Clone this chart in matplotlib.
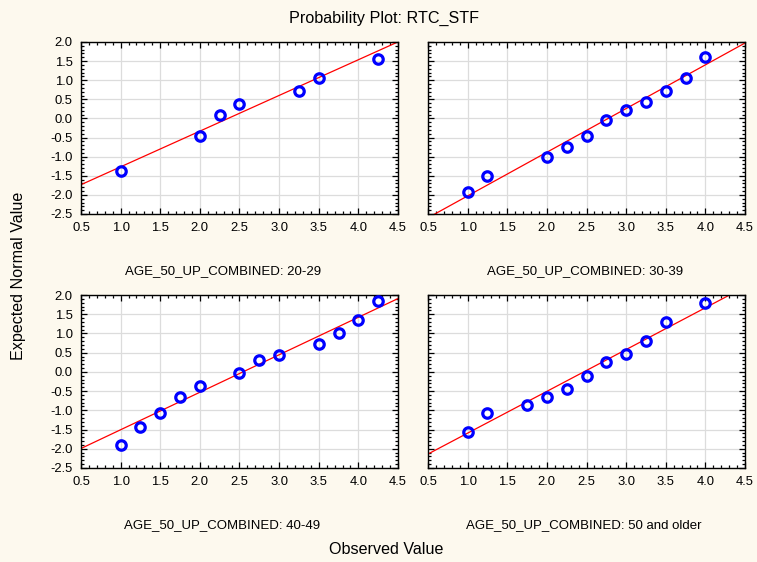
import matplotlib
matplotlib.use("Agg")
import matplotlib.pyplot as plt
from matplotlib.ticker import MultipleLocator, FormatStrFormatter

plt.rcParams['font.family'] = ['Liberation Sans', 'DejaVu Sans']

# Observed values and expected normal scores per age group
groups = ["20-29", "30-39", "40-49", "50 and older"]

obs_20_29 = [1.0, 2.0, 2.25, 2.5, 3.25, 3.5, 4.25]
exp_20_29 = [-1.37, -0.47, 0.09, 0.37, 0.71, 1.06, 1.55]

obs_30_39 = [1.0, 1.25, 2.0, 2.25, 2.5, 2.75, 3.0, 3.25, 3.5, 3.75, 4.0]
exp_30_39 = [-1.93, -1.51, -1.02, -0.745, -0.47, -0.05, 0.23, 0.44, 0.71, 1.06, 1.62]

obs_40_49 = [1.0, 1.25, 1.5, 1.75, 2.0, 2.5, 2.75, 3.0, 3.5, 3.75, 4.0, 4.25]
exp_40_49 = [-1.90, -1.43, -1.08, -0.66, -0.38, -0.04, 0.32, 0.45, 0.725, 1.0, 1.36, 1.84]

obs_50_up = [1.0, 1.25, 1.75, 2.0, 2.25, 2.5, 2.75, 3.0, 3.25, 3.5, 4.0]
exp_50_up = [-1.56, -1.07, -0.86, -0.65, -0.45, -0.10, 0.25, 0.46, 0.80, 1.29, 1.78]

# Reference lines (intercept, slope)
line_intercepts = [-2.20, -3.17, -2.48, -2.68]
line_slopes = [0.934, 1.143, 0.975, 1.087]

observed = [obs_20_29, obs_30_39, obs_40_49, obs_50_up]
expected = [exp_20_29, exp_30_39, exp_40_49, exp_50_up]

x_range = (0.5, 4.5)
y_range = (-2.5, 2.0)

W, H = 757, 562
fig = plt.figure(figsize=(W / 100, H / 100), dpi=100)
fig.patch.set_facecolor('#fdf9ee')

# axes boxes in pixels: (left, top, right, bottom)
boxes = [(81, 42, 398, 214), (428, 42, 745, 214),
         (81, 295, 398, 468), (428, 295, 745, 468)]
# horizontal centres of the group captions
caption_x = [223, 585, 222, 584]

for i, (grp, xs, ys, b0, b1, box, cx) in enumerate(
        zip(groups, observed, expected, line_intercepts, line_slopes, boxes, caption_x)):
    l, t, r, btm = box
    ax = fig.add_axes([l / W, 1 - btm / H, (r - l) / W, (btm - t) / H])
    ax.set_facecolor('white')
    ax.set_xlim(*x_range)
    ax.set_ylim(*y_range)
    ax.xaxis.set_major_locator(MultipleLocator(0.5))
    ax.yaxis.set_major_locator(MultipleLocator(0.5))
    ax.xaxis.set_minor_locator(MultipleLocator(0.1))
    ax.yaxis.set_minor_locator(MultipleLocator(0.1))
    ax.xaxis.set_major_formatter(FormatStrFormatter('%.1f'))
    ax.yaxis.set_major_formatter(FormatStrFormatter('%.1f'))
    ax.tick_params(which='both', direction='in', top=True, right=True,
                   colors='black', labelsize=9.4, width=0.9)
    ax.tick_params(which='major', length=4, pad=6)
    ax.tick_params(which='minor', length=2.5)
    if i % 2 == 1:
        ax.tick_params(labelleft=False)
    ax.grid(True, which='major', color='#dcdcdc', lw=0.9)
    ax.set_axisbelow(True)
    for sp in ax.spines.values():
        sp.set_linewidth(1.0)
        sp.set_color('black')

    lx = list(x_range)
    ly = [b0 + b1 * v for v in lx]
    ax.plot(lx, ly, color='#ff0000', lw=0.9, zorder=2)
    ax.plot(xs, ys, 'o', ms=6.8, mfc='none', mec='#0000ff', mew=2.3,
            zorder=3, clip_on=False)

    fig.text(cx / W, 1 - (btm + 57) / H,
             "AGE_50_UP_COMBINED: " + grp, ha='center', va='center',
             fontsize=9.5)

fig.text(384 / W, 1 - 18 / H, "Probability Plot: RTC_STF",
         ha='center', va='center', fontsize=11.6)
fig.text(386 / W, 1 - 550 / H, "Observed Value",
         ha='center', va='center', fontsize=11.6)
fig.text(19 / W, 1 - 276 / H, "Expected Normal Value",
         ha='center', va='center', rotation=90, fontsize=11.6)

fig.savefig("out.png", dpi=100, facecolor=fig.get_facecolor())
